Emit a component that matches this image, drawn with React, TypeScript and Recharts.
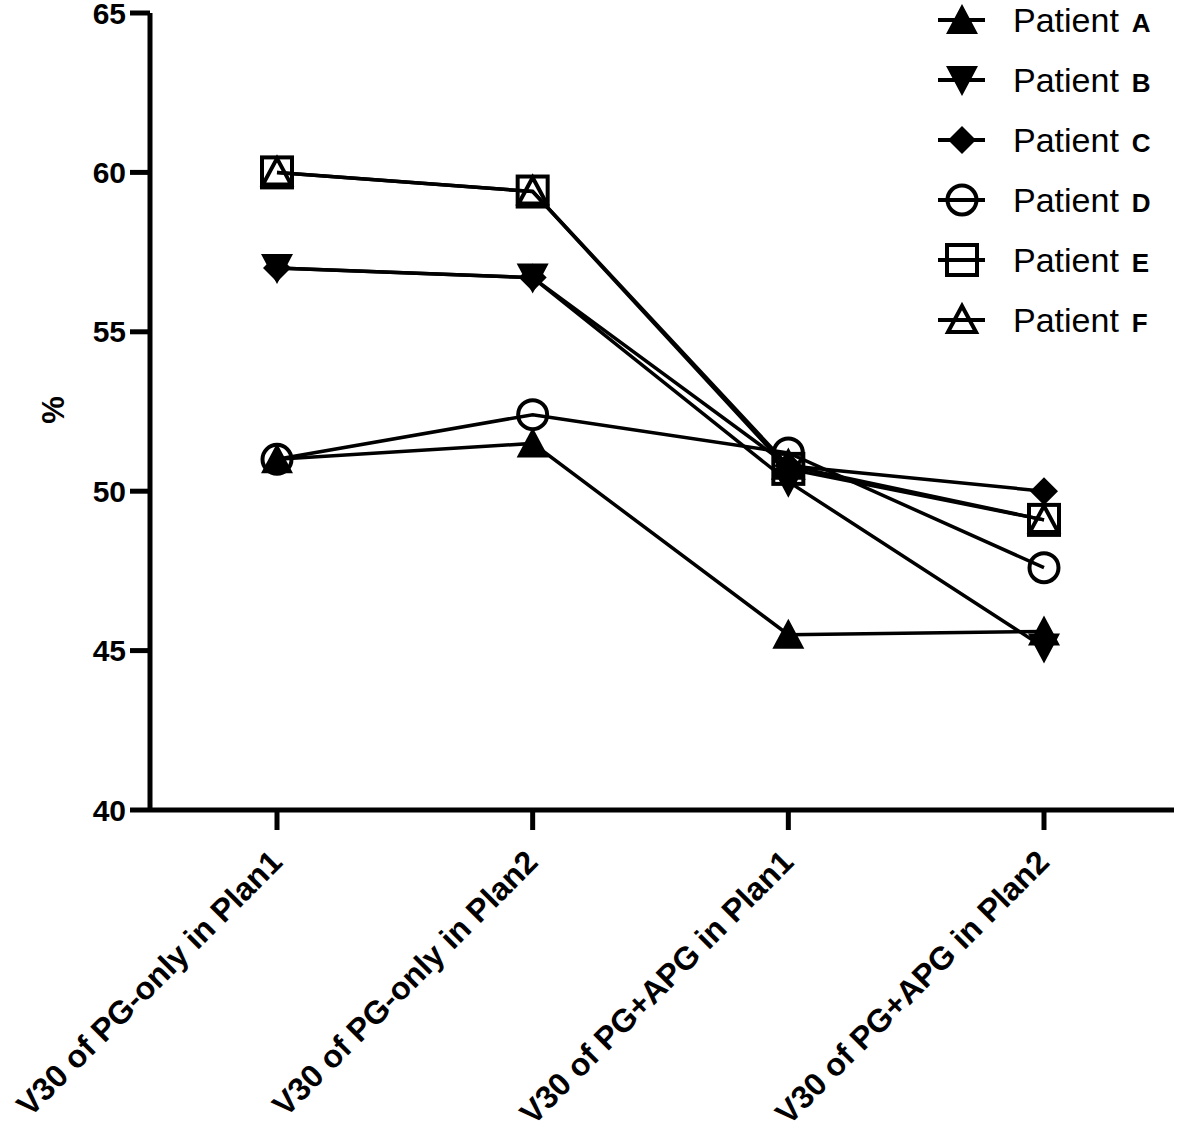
import { LineChart, Line, XAxis, YAxis, Legend } from 'recharts';

const categories = [
  'V30 of PG-only in Plan1',
  'V30 of PG-only in Plan2',
  'V30 of PG+APG in Plan1',
  'V30 of PG+APG in Plan2',
];

const patientA = [51.0, 51.5, 45.5, 45.6];
const patientB = [57.0, 56.7, 50.3, 45.1];
const patientC = [57.0, 56.7, 50.8, 50.0];
const patientD = [51.0, 52.4, 51.2, 47.6];
const patientE = [60.0, 59.4, 50.7, 49.1];
const patientF = [60.0, 59.4, 50.8, 49.1];

const yTicks = [40, 45, 50, 55, 60, 65];

const FONT = '"Liberation Sans", Arial, sans-serif';

type MarkerKind = 'triUp' | 'triDown' | 'diamond' | 'circle' | 'square' | 'triOpen';

const series: Array<{ key: string; letter: string; values: number[]; marker: MarkerKind }> = [
  { key: 'A', letter: 'A', values: patientA, marker: 'triUp' },
  { key: 'B', letter: 'B', values: patientB, marker: 'triDown' },
  { key: 'C', letter: 'C', values: patientC, marker: 'diamond' },
  { key: 'D', letter: 'D', values: patientD, marker: 'circle' },
  { key: 'E', letter: 'E', values: patientE, marker: 'square' },
  { key: 'F', letter: 'F', values: patientF, marker: 'triOpen' },
];

const data = categories.map((name, i) => {
  const row: Record<string, number | string> = { name };
  series.forEach((s) => {
    row[s.key] = s.values[i];
  });
  return row;
});

function Marker({ kind, cx, cy }: { kind: MarkerKind; cx: number; cy: number }) {
  switch (kind) {
    case 'triUp':
      return <polygon points={`${cx},${cy - 16} ${cx - 16},${cy + 14} ${cx + 16},${cy + 14}`} fill="#000" />;
    case 'triDown':
      return <polygon points={`${cx - 16},${cy - 14} ${cx + 16},${cy - 14} ${cx},${cy + 16}`} fill="#000" />;
    case 'diamond':
      return <polygon points={`${cx},${cy - 14} ${cx + 14},${cy} ${cx},${cy + 14} ${cx - 14},${cy}`} fill="#000" />;
    case 'circle':
      return <circle cx={cx} cy={cy} r={14.5} fill="none" stroke="#000" strokeWidth={4} />;
    case 'square':
      return <rect x={cx - 15} y={cy - 15} width={30} height={30} fill="none" stroke="#000" strokeWidth={4} />;
    case 'triOpen':
      return (
        <polygon
          points={`${cx},${cy - 14} ${cx - 14},${cy + 12} ${cx + 14},${cy + 12}`}
          fill="none"
          stroke="#000"
          strokeWidth={4}
        />
      );
  }
  return null;
}

const makeDot = (kind: MarkerKind) => (props: any) => {
  const { cx, cy, index } = props;
  if (cx == null || cy == null) return <g key={index} />;
  return (
    <g key={`${kind}-${index}`}>
      <Marker kind={kind} cx={cx} cy={cy} />
    </g>
  );
};

function XTick(props: any) {
  const { x, y, payload } = props;
  const tx = x + 7;
  const ty = y + 32;
  return (
    <text
      x={tx}
      y={ty}
      transform={`rotate(-45 ${tx} ${ty})`}
      textAnchor="end"
      fontFamily={FONT}
      fontWeight="bold"
      fontSize={32}
      fill="#000"
    >
      {payload.value}
    </text>
  );
}

function PatientLegend() {
  return (
    <div style={{ fontFamily: FONT, color: '#000' }}>
      {series.map((s) => (
        <div key={s.key} style={{ display: 'flex', alignItems: 'center', height: 60 }}>
          <svg width={75} height={40} style={{ display: 'block' }}>
            <line x1={0} y1={20} x2={47} y2={20} stroke="#000" strokeWidth={4} />
            <Marker kind={s.marker} cx={24} cy={20} />
          </svg>
          <span style={{ fontSize: 34, lineHeight: '40px' }}>Patient</span>
          <span style={{ fontSize: 26, fontWeight: 'bold', marginLeft: 13, lineHeight: '40px', paddingTop: 6 }}>
            {s.letter}
          </span>
        </div>
      ))}
    </div>
  );
}

export default function App() {
  return (
    <div style={{ width: 1181, height: 1134, background: '#fff' }}>
      <style>{'body{margin:0;}'}</style>
      <LineChart width={1181} height={1134} data={data} margin={{ top: 13, right: 7, left: 0, bottom: 0 }}>
        <XAxis
          dataKey="name"
          type="category"
          interval={0}
          height={324}
          padding={{ left: 127, right: 130 }}
          axisLine={{ stroke: '#000', strokeWidth: 5 }}
          tickLine={{ stroke: '#000', strokeWidth: 5 }}
          tickSize={20}
          tick={<XTick />}
        />
        <YAxis
          type="number"
          domain={[40, 65]}
          ticks={yTicks}
          width={150}
          interval={0}
          axisLine={{ stroke: '#000', strokeWidth: 5 }}
          tickLine={{ stroke: '#000', strokeWidth: 5 }}
          tickSize={20}
          tickMargin={4}
          tick={{ fill: '#000', fontSize: 30, fontWeight: 'bold', fontFamily: FONT }}
          label={{
            content: () => (
              <text
                x={53}
                y={410}
                transform="rotate(-90 53 410)"
                textAnchor="middle"
                dominantBaseline="central"
                fontFamily={FONT}
                fontWeight="bold"
                fontSize={31}
                fill="#000"
              >
                %
              </text>
            ),
          }}
        />
        <Legend
          layout="vertical"
          verticalAlign="middle"
          align="center"
          wrapperStyle={{ top: -10, left: 938, width: 240 }}
          content={() => <PatientLegend />}
        />
        {series.map((s) => (
          <Line
            key={s.key}
            dataKey={s.key}
            name={`Patient ${s.letter}`}
            stroke="#000"
            strokeWidth={3.5}
            dot={makeDot(s.marker)}
            activeDot={false}
            isAnimationActive={false}
          />
        ))}
      </LineChart>
    </div>
  );
}
